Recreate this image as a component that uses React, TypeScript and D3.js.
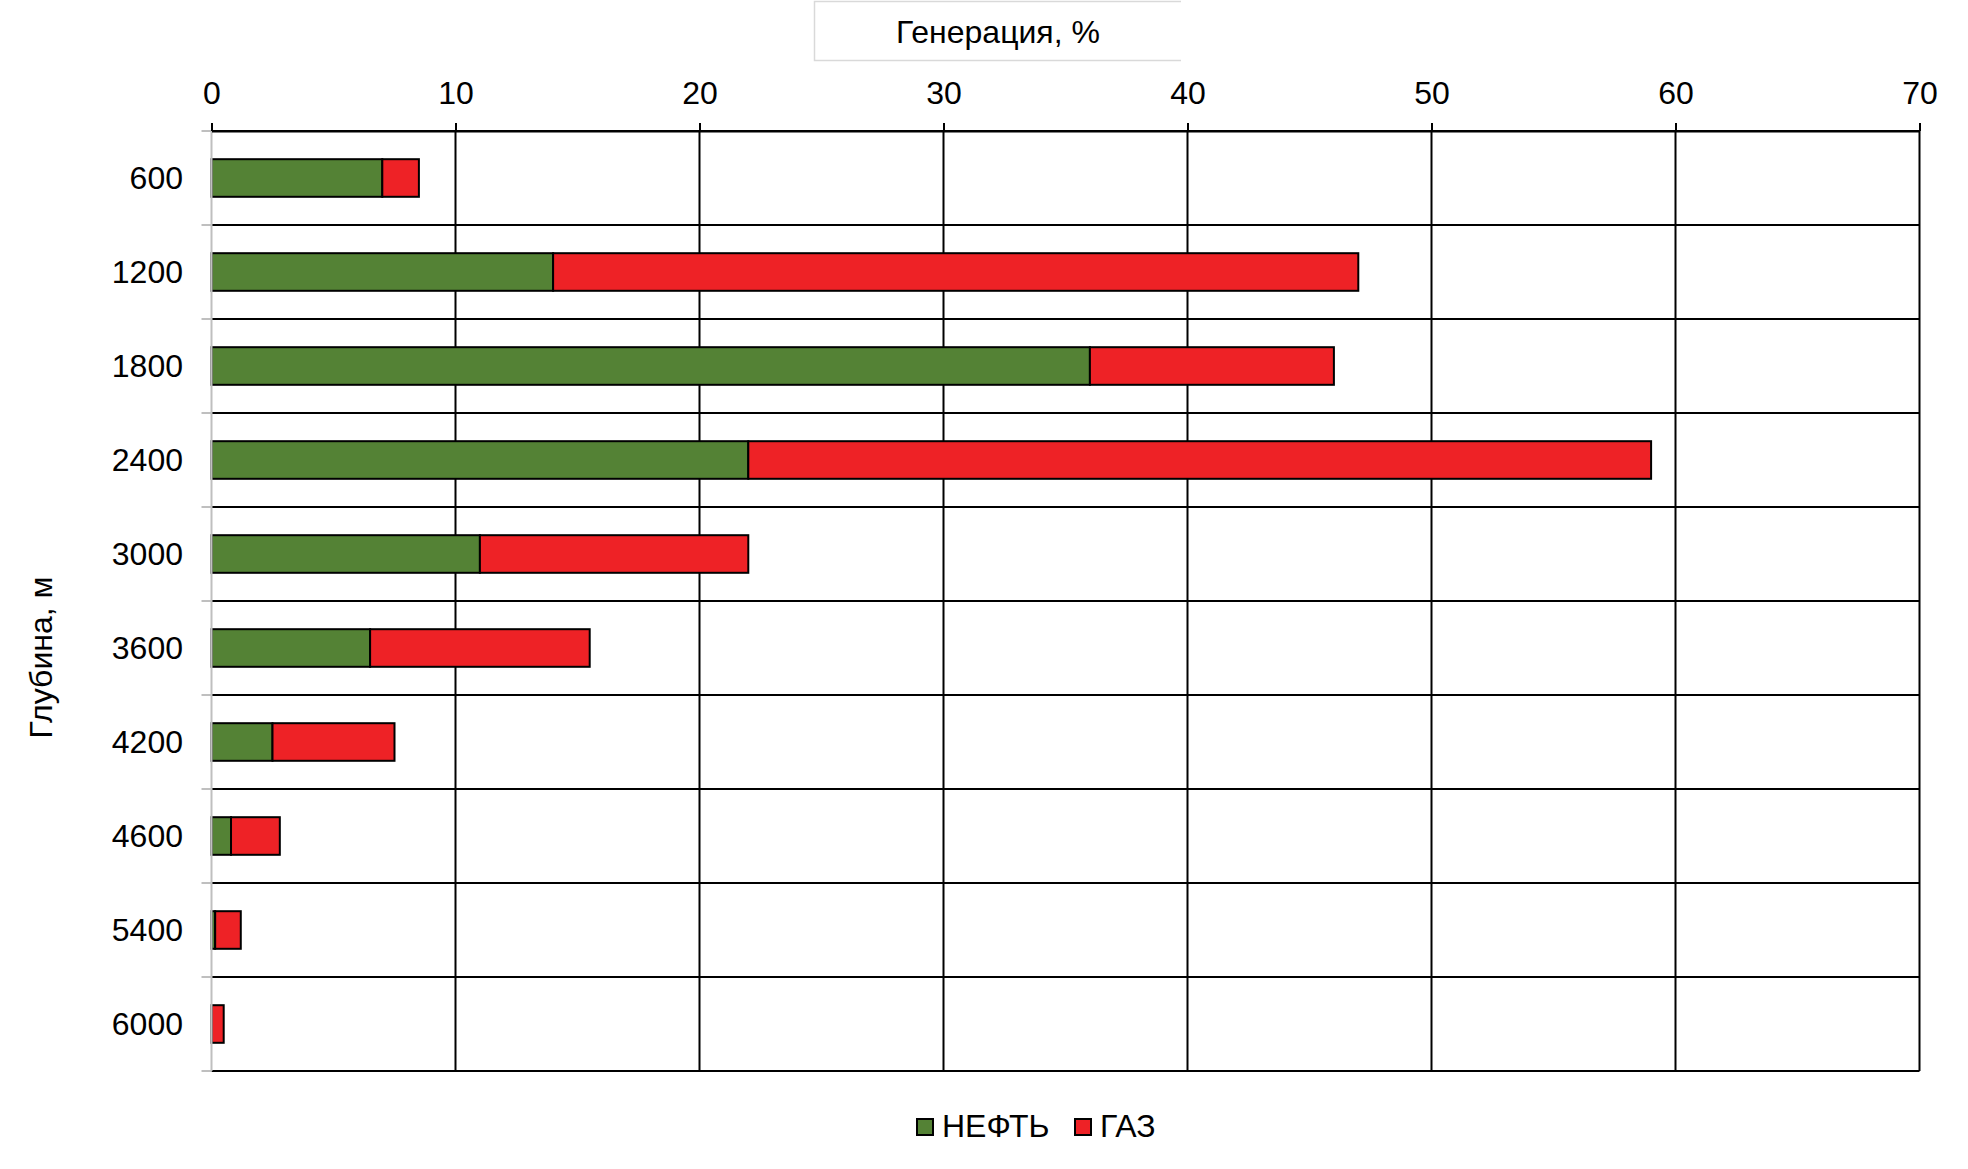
import React, { FC, useEffect, useRef } from "react"
import { select, scaleLinear, scaleBand, stack, axisTop } from "d3"

// data
const depths = ["600", "1200", "1800", "2400", "3000", "3600", "4200", "4600", "5400", "6000"]
const oilValues = [7, 14, 36, 22, 11, 6.5, 2.5, 0.8, 0.15, 0]
const gasValues = [1.5, 33, 10, 37, 11, 9, 5, 2, 1.05, 0.5]
const xTicks = [0, 10, 20, 30, 40, 50, 60, 70]
const seriesNames = ["НЕФТЬ", "ГАЗ"]
const seriesColors = ["#548235", "#EE2226"]

type Row = { depth: string; oil: number; gas: number }

const App: FC = () => {
  const svgRef = useRef<SVGSVGElement>(null)

  useEffect(() => {
    if (!svgRef.current) return
    drawChart(svgRef.current)
  }, [])

  const drawChart = (node: SVGSVGElement) => {
    const width = 1968
    const height = 1169
    const margins = { top: 131, right: 48.5, bottom: 98, left: 211.5 }
    const font = "'Liberation Sans', Arial, sans-serif"

    const svg = select(node)
    svg.selectAll("*").remove()
    svg.attr("width", width).attr("height", height)

    const rows: Row[] = depths.map((d, i) => ({ depth: d, oil: oilValues[i], gas: gasValues[i] }))

    // scales
    const xScale = scaleLinear()
      .domain([0, 70])
      .range([margins.left, width - margins.right])
    const yScale = scaleBand<string>()
      .domain(depths)
      .range([margins.top, height - margins.bottom])
      .paddingInner(0.6)
      .paddingOuter(0.3)

    const step = yScale.step()
    const gap = (step - yScale.bandwidth()) / 2
    const boundaries = depths.map((d) => (yScale(d) ?? 0) - gap)
    boundaries.push(height - margins.bottom)

    // grid
    const grid = svg.append("g")
    grid
      .selectAll("line.v")
      .data(xTicks.slice(1))
      .join("line")
      .attr("x1", (d) => xScale(d))
      .attr("x2", (d) => xScale(d))
      .attr("y1", margins.top)
      .attr("y2", height - margins.bottom)
      .attr("stroke", "#000")
      .attr("stroke-width", 2)
    grid
      .selectAll("line.h")
      .data(boundaries)
      .join("line")
      .attr("x1", xScale(0))
      .attr("x2", xScale(70))
      .attr("y1", (d) => d)
      .attr("y2", (d) => d)
      .attr("stroke", "#000")
      .attr("stroke-width", 2)

    // stacked bars
    const stacked = stack<Row>().keys(["oil", "gas"])(rows)
    svg
      .append("g")
      .selectAll("g")
      .data(stacked)
      .join("g")
      .attr("fill", (_, i) => seriesColors[i])
      .selectAll("rect")
      .data((s) => s.filter((p) => p[1] - p[0] > 0))
      .join("rect")
      .attr("x", (p) => xScale(p[0]))
      .attr("width", (p) => xScale(p[1]) - xScale(p[0]))
      .attr("y", (p) => yScale(p.data.depth) ?? 0)
      .attr("height", yScale.bandwidth())
      .attr("stroke", "#000")
      .attr("stroke-width", 2)

    // y axis
    const yAxis = svg.append("g")
    yAxis
      .append("line")
      .attr("x1", margins.left)
      .attr("x2", margins.left)
      .attr("y1", margins.top)
      .attr("y2", height - margins.bottom)
      .attr("stroke", "#bfbfbf")
      .attr("stroke-width", 2)
    yAxis
      .selectAll("line.tick")
      .data(boundaries)
      .join("line")
      .attr("x1", margins.left - 10)
      .attr("x2", margins.left)
      .attr("y1", (d) => d)
      .attr("y2", (d) => d)
      .attr("stroke", "#bfbfbf")
      .attr("stroke-width", 2)
    yAxis
      .selectAll("text")
      .data(depths)
      .join("text")
      .attr("x", 183)
      .attr("y", (d) => (yScale(d) ?? 0) + yScale.bandwidth() / 2)
      .attr("dy", "0.33em")
      .attr("text-anchor", "end")
      .attr("font-family", font)
      .attr("font-size", 32)
      .attr("fill", "#000")
      .text((d) => d)

    // x axis (top)
    const xAxis = axisTop(xScale).tickValues(xTicks).tickSize(8).tickSizeOuter(0).tickPadding(19)
    const xg = svg.append("g").attr("transform", `translate(0, ${margins.top})`).call(xAxis)
    xg.select(".domain").attr("stroke", "#000").attr("stroke-width", 2)
    xg.selectAll(".tick line").attr("stroke", "#000").attr("stroke-width", 2)
    xg.selectAll(".tick text")
      .attr("font-family", font)
      .attr("font-size", 32)
      .attr("fill", "#000")

    // title box
    svg
      .append("path")
      .attr("d", "M1181,1.5 H814.5 V60.5 H1181")
      .attr("fill", "none")
      .attr("stroke", "#d9d9d9")
      .attr("stroke-width", 1.5)
    svg
      .append("text")
      .attr("x", 998)
      .attr("y", 43)
      .attr("text-anchor", "middle")
      .attr("font-family", font)
      .attr("font-size", 32)
      .attr("fill", "#000")
      .text("Генерация, %")

    // y title
    svg
      .append("text")
      .attr("transform", "translate(51.5, 657.5) rotate(-90)")
      .attr("text-anchor", "middle")
      .attr("font-family", font)
      .attr("font-size", 32)
      .attr("fill", "#000")
      .text("Глубина, м")

    // legend
    const legendX = [917, 1075]
    const legend = svg
      .append("g")
      .selectAll("g")
      .data(seriesNames)
      .join("g")
      .attr("transform", (_, i) => `translate(${legendX[i]}, 1119)`)
    legend
      .append("rect")
      .attr("width", 16)
      .attr("height", 16)
      .attr("fill", (_, i) => seriesColors[i])
      .attr("stroke", "#000")
      .attr("stroke-width", 2)
    legend
      .append("text")
      .attr("x", 25)
      .attr("y", 18)
      .attr("font-family", font)
      .attr("font-size", 32)
      .attr("fill", "#000")
      .text((d) => d)
  }

  return (
    <div style={{ position: "absolute", left: 0, top: 0, background: "#fff" }}>
      <svg ref={svgRef} style={{ display: "block" }} />
    </div>
  )
}

export default App
